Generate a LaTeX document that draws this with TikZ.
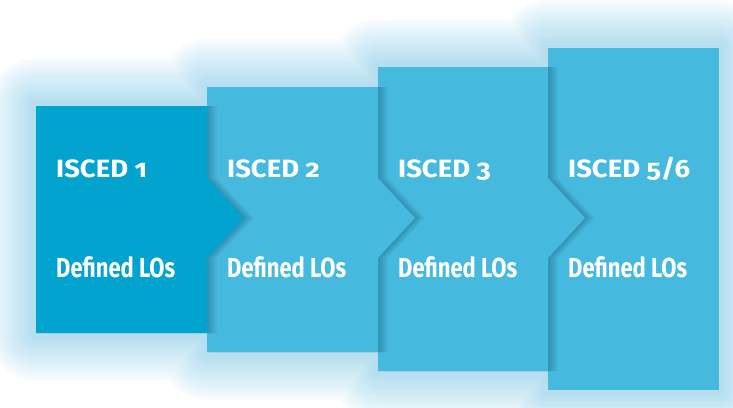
\documentclass[tikz,border=0pt]{standalone}
\usepackage{fontspec}
\setmainfont{Fira Sans}[Numbers=OldStyle]
\definecolor{darkbox}{HTML}{03A3CF}
\definecolor{lightbox}{HTML}{46B9DF}
\definecolor{glow}{HTML}{6EC6EA}
\newcommand{\hdtext}[1]{\scalebox{1.1}[1]{\fontsize{25}{28}\selectfont\bfseries #1}}
\newcommand{\lotext}[1]{\scalebox{0.8}[1]{\fontsize{27.5}{30}\selectfont\bfseries #1}}
\begin{document}
\begin{tikzpicture}[x=1pt,y=-1pt,
  hd/.style={anchor=base west, inner sep=0pt, text=white},
  lo/.style={anchor=base west, inner sep=0pt, text=white},
  shade/.style={black, fill opacity=0.018}]
\useasboundingbox (0,0) rectangle (733,407);
\fill[white] (0,0) rectangle (733,407);
% glow
\foreach \r in {48,45,...,2} {
  \fill[glow, fill opacity=0.04, rounded corners=\r pt]
    (36-\r,106-\r) rectangle (207+\r,333+\r)
    (207-\r,87-\r) rectangle (378+\r,352+\r)
    (378-\r,67-\r) rectangle (548+\r,371+\r)
    (548-\r,48-\r) rectangle (719+\r,390+\r);
}
% box 4
\fill[lightbox] (548,48) rectangle (719,390);
% box 3
\foreach \s in {1,...,10} \fill[shade, xshift=\s pt]
  (378,67) -- (548,67) -- (548,178) -- (585,218) -- (548,258) -- (548,371) -- (378,371) -- cycle;
\fill[lightbox] (378,67) -- (548,67) -- (548,178) -- (585,218) -- (548,258) -- (548,371) -- (378,371) -- cycle;
% box 2
\foreach \s in {1,...,10} \fill[shade, xshift=\s pt]
  (207,87) -- (378,87) -- (378,178) -- (415,218) -- (378,258) -- (378,352) -- (207,352) -- cycle;
\fill[lightbox] (207,87) -- (378,87) -- (378,178) -- (415,218) -- (378,258) -- (378,352) -- (207,352) -- cycle;
% box 1
\foreach \s in {1,...,10} \fill[shade, xshift=\s pt]
  (36,106) -- (207,106) -- (207,178) -- (244,218) -- (207,258) -- (207,333) -- (36,333) -- cycle;
\fill[darkbox] (36,106) -- (207,106) -- (207,178) -- (244,218) -- (207,258) -- (207,333) -- (36,333) -- cycle;
% texts
\node[hd] (h1) at (56,177) {\hdtext{ISCED 1}};
\node[hd] (h2) at (227,177) {\hdtext{ISCED 2}};
\node[hd] (h3) at (398,177) {\hdtext{ISCED 3}};
\node[hd] (h4) at (568,177) {\hdtext{ISCED 5/6}};
\node[lo] (l1) at (56,277) {\lotext{Defined LOs}};
\node[lo] (l2) at (227,277) {\lotext{Defined LOs}};
\node[lo] (l3) at (398,277) {\lotext{Defined LOs}};
\node[lo] (l4) at (568,277) {\lotext{Defined LOs}};
\end{tikzpicture}
\end{document}
